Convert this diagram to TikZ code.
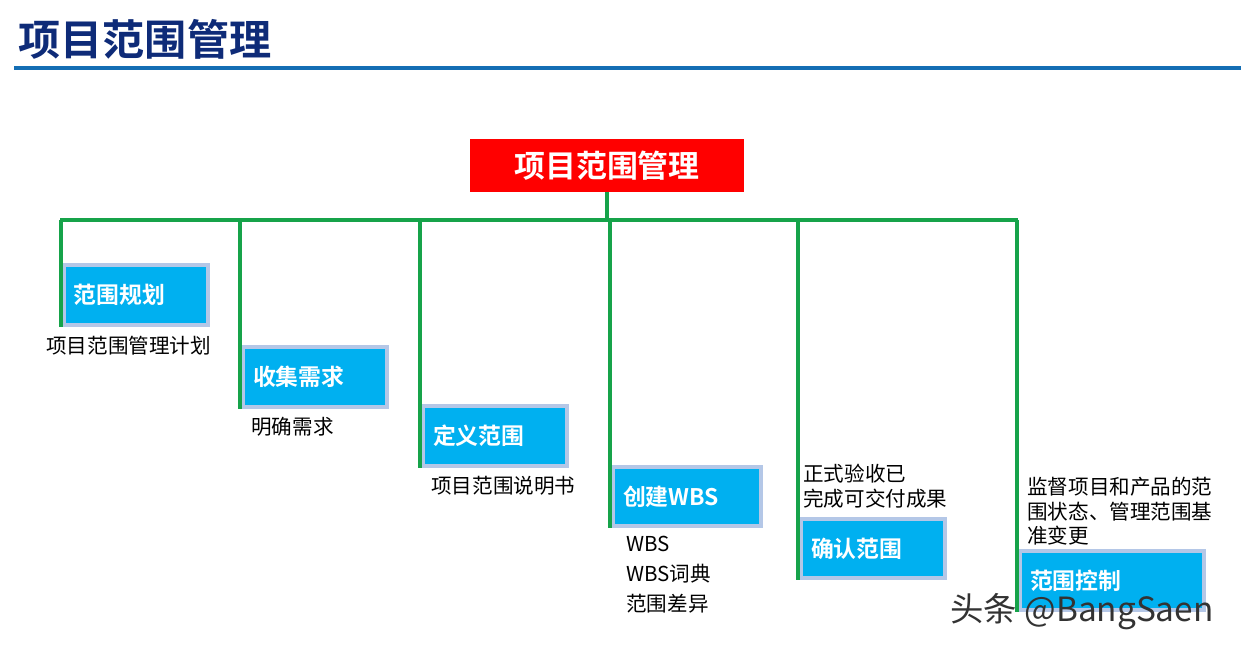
\documentclass[tikz,border=0pt]{standalone}
\usepackage{fontspec}
\setmainfont{Noto Sans CJK SC}[BoldFont={Noto Sans CJK SC Bold}]
\usetikzlibrary{positioning}

\definecolor{navy}{RGB}{14,43,120}
\definecolor{rule}{RGB}{20,110,180}
\definecolor{branch}{RGB}{22,163,74}
\definecolor{cyanfill}{RGB}{0,176,240}
\definecolor{paleblue}{RGB}{180,199,231}

\tikzstyle{rootbox} = [rectangle, minimum width=5.48cm, minimum height=1.06cm, fill=red, text=white, font=\fontsize{17.6}{20}\selectfont\bfseries]
\tikzstyle{proc} = [rectangle, text width=2.48cm, minimum height=1.2cm, fill=cyanfill, draw=paleblue, line width=0.08cm, text=white, inner xsep=0.2cm, align=left, font=\fontsize{13}{15}\selectfont\bfseries]
\tikzstyle{result} = [inner sep=0pt, align=left, font=\fontsize{11.7}{14.2}\selectfont]
\tikzstyle{link} = [draw=branch, line width=0.08cm]

\begin{document}
\begin{tikzpicture}[x=0.02cm, y=-0.02cm]
        \useasboundingbox (0,0) rectangle (1241,652);
        % heading
        \node(title) [anchor=west, inner sep=0pt, text=navy, font=\fontsize{24}{28}\selectfont\bfseries] at (18,39) {项目范围管理};
        \fill[rule] (14,66) rectangle (1241,70);
        \node[rootbox] (root) at (607,165.5) {项目范围管理};
        % process boxes
        \node[proc, anchor=west] (p1) at (62,295) {范围规划};
        \node[proc, anchor=west] (p2) at (241,377) {收集需求};
        \node[proc, anchor=west] (p3) at (421,436) {定义范围};
        \node[proc, anchor=west, text width=2.56cm] (p4) at (611,496.5) {创建WBS};
        \node[proc, anchor=west] (p5) at (799,548.5) {确认范围};
        \node[proc, anchor=west, text width=3.28cm] (p6) at (1018,580.5) {范围控制};
        % outputs
        \node[result, anchor=west] (o1) at (46,346) {项目范围管理计划};
        \node[result, anchor=west] (o2) at (251,427) {明确需求};
        \node[result, anchor=west] (o3) at (431,486) {项目范围说明书};
        \node[result, anchor=north west, font=\fontsize{11.7}{17}\selectfont] (o4) at (626,536) {WBS\\WBS词典\\范围差异};
        \node[result, anchor=south west] (o5) at (803,509) {正式验收已\\完成可交付成果};
        \node[result, anchor=south west] (o6) at (1027,546) {监督项目和产品的范\\围状态、管理范围基\\准变更};
        % tree lines
        \coordinate (bl) at (60,220);
        \coordinate (br) at (1018,220);
        \draw[link] (root.south) -- (root.south |- bl);
        \draw[link] (bl) -- (br);
        \coordinate (t1) at (61,220);
        \coordinate (t2) at (240,220);
        \coordinate (t3) at (420,220);
        \coordinate (t4) at (610,220);
        \coordinate (t5) at (798,220);
        \coordinate (t6) at (1017,220);
        \draw[link] (t1) -- (t1 |- p1.south);
        \draw[link] (t2) -- (t2 |- p2.south);
        \draw[link] (t3) -- (t3 |- p3.south);
        \draw[link] (t4) -- (t4 |- p4.south);
        \draw[link] (t5) -- (t5 |- p5.south);
        \draw[link] (t6) -- (t6 |- p6.south);
        % watermark
        \node(mark) [anchor=west, inner sep=0pt, text=black!80, font=\fontsize{19}{23}\selectfont] at (950,612) {头条 @BangSaen};
    \end{tikzpicture}
\end{document}
